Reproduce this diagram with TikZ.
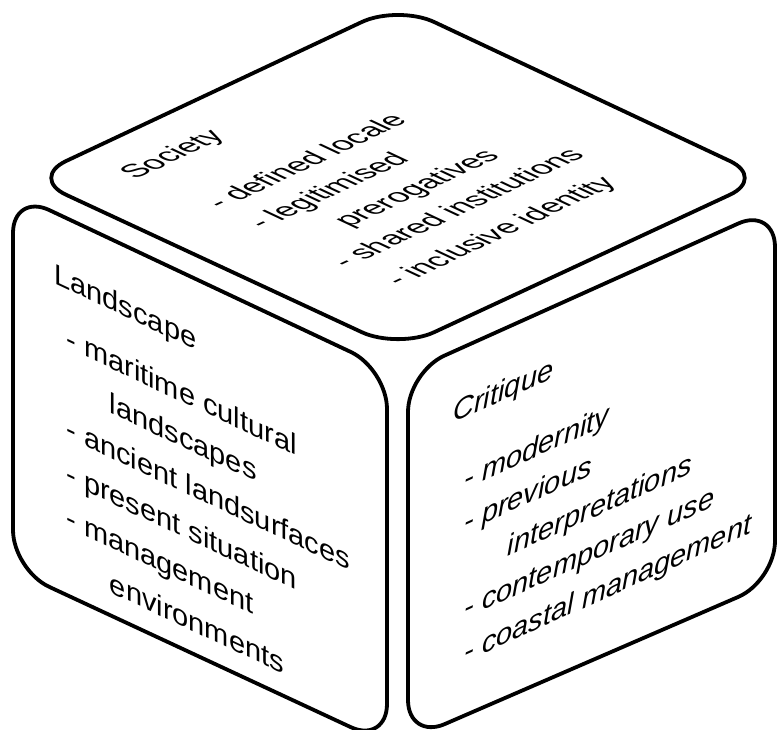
\documentclass[tikz,border=0pt]{standalone}
\usepackage{fontspec}
\setmainfont{Liberation Sans}

\begin{document}
\begin{tikzpicture}[x=0.5pt,y=-0.5pt]

\tikzset{cube face/.style={
		draw,
		line width=1.9pt,
		rounded corners=20pt
	},
	face text/.style={
		inner sep=0pt,
		anchor=base west,
		align=left,
		font=\fontsize{14.5}{22.4}\selectfont
	},
	face list/.style={anchor=north west},
	left side/.style={face text, yslant=-0.47},
	right side/.style={face text, yslant=0.45,
		font=\fontsize{14.5}{21.6}\selectfont\itshape},
	top side/.style={face text, cm={0.95,0.447,-0.95,0.447,(0,0)},
		font=\fontsize{14.5}{22}\selectfont}
}
\useasboundingbox (0,0) rectangle (777,729);

% the three faces
\draw[cube face] (398,5) -- (766,178) -- (398,349) -- (30,178) -- cycle;
\draw[cube face] (13,193) -- (387,369) -- (387,744) -- (13,570) -- cycle;
\draw[cube face] (408,372) -- (775,207) -- (775,581) -- (408,740) -- cycle;

% top
\node[top side] (society) at (135,180) {Society};
\node[top side, face list] (society list) at (201,200) {- defined locale\\
	- legitimised\\
	\hspace*{1.6em}prerogatives\\
	- shared institutions\\[2pt]
	\hspace*{4pt}- inclusive identity};

% left
\node[left side] (landscape) at (54,283) {Landscape};
\node[left side, face list] (landscape list) at (66,326) {- maritime cultural\\
	\hspace*{1.5em}landscapes\\
	- ancient landsurfaces\\
	- present situation\\
	- management\\
	\hspace*{1.5em}environments};

% right
\node[right side] (critique) at (453,423) {Critique};
\node[right side, face list] (critique list) at (464,468) {- modernity\\
	- previous\\
	\hspace*{1.5em}interpretations\\
	- contemporary use\\
	- coastal management};

\end{tikzpicture}
\end{document}
